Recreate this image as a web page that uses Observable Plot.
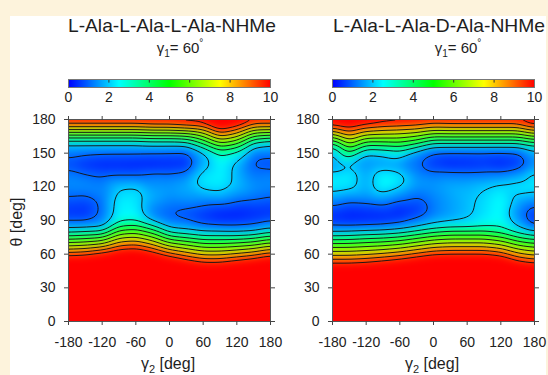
<!DOCTYPE html>
<html>
<head>
<meta charset="utf-8">
<script src="https://cdn.jsdelivr.net/npm/d3@7"></script>
<script src="https://cdn.jsdelivr.net/npm/@observablehq/plot@0.6"></script>
<style>
  html, body { margin: 0; padding: 0; }
  #root { position: relative; width: 548px; height: 375px; background: #fdf3dc; overflow: hidden; font-family: "Liberation Sans", Arial, sans-serif; }
  #paper { position: absolute; left: 10px; top: 16px; width: 536px; height: 359px; background: #fff; }
  .abs { position: absolute; }
  svg { overflow: visible; }
</style>
</head>
<body>
<div id="root"><div id="paper"></div></div>
<script>
// ---- data (energy, 0..10 colour range) ----
const gamma2 = [-180, -150, -120, -90, -60, -30, 0, 30, 60, 90, 120, 150, 180];
const theta = [0, 40, 50, 55, 60, 65, 70, 75, 80, 85, 90, 95, 100, 110, 120, 130, 140, 150, 155, 160, 165, 170, 175, 180];

// one inner array per gamma2 column, values along theta
const energyLLL = [
  [30, 16.3, 12.9, 11.2, 9.5, 7.8, 6.1, 4.4, 2.7, 1.55, 0.85, 0.6, 0.5, 0.95, 1.35, 1.3, 0.7, 1.2, 1.6, 2.3, 4.6, 6.6, 8.6, 10.6],
  [30, 16.5, 13.1, 11.4, 9.7, 8.0, 6.3, 4.6, 2.9, 1.6, 0.85, 0.55, 0.45, 0.85, 1.4, 1.1, 0.4, 1.1, 1.6, 2.3, 4.6, 6.6, 8.6, 10.6],
  [30, 17.6, 14.0, 12.2, 10.4, 8.5, 6.7, 4.9, 3.1, 1.6, 1.3, 1.15, 1.1, 1.2, 1.3, 0.95, 0.3, 1.02, 1.6, 2.3, 4.6, 6.6, 8.6, 10.6],
  [30, 18, 14.1, 12.6, 11.2, 9.7, 8.3, 6.8, 5.3, 3.9, 2.7, 2.45, 2.4, 2.3, 1.95, 1.0, 0.3, 1.0, 1.6, 2.3, 4.6, 6.6, 8.6, 10.6],
  [30, 17.3, 14.4, 12.9, 11.5, 10.0, 8.6, 7.1, 5.6, 4.2, 2.8, 2.5, 2.4, 2.3, 2.05, 1.0, 0.25, 1.0, 1.6, 2.3, 4.6, 6.6, 8.6, 10.6],
  [30, 16.6, 13.6, 12.1, 10.6, 9.1, 7.6, 6.1, 4.6, 3.05, 1.75, 1.3, 1.3, 1.7, 1.5, 1.2, 0.25, 0.95, 1.6, 2.6, 4.8, 6.8, 8.8, 10.8],
  [30, 16, 12.7, 11, 9.3, 7.7, 6.0, 4.3, 2.7, 1.6, 1.15, 0.98, 1.02, 1.4, 1.5, 1.15, 0.3, 0.9, 1.6, 2.6, 4.8, 6.8, 8.8, 10.8],
  [30, 15, 11.5, 10, 8.5, 7.0, 5.4, 3.9, 2.3, 1.5, 1.0, 0.75, 0.95, 1.5, 1.7, 1.3, 0.35, 0.85, 1.5, 2.9, 4.9, 7.0, 9.2, 11],
  [30, 14.4, 10.7, 9.3, 7.8, 6.3, 4.8, 3.4, 1.95, 1.1, 0.65, 0.5, 0.75, 1.5, 2.2, 2.3, 1.7, 1.7, 3.0, 4.4, 6.0, 7.5, 9.6, 11],
  [30, 14.4, 10.7, 9.3, 7.8, 6.3, 4.8, 3.4, 1.95, 0.95, 0.5, 0.3, 0.55, 1.6, 2.3, 2.45, 2.5, 3.1, 4.8, 6.4, 8.0, 9.8, 11.3, 12.8],
  [30, 14.6, 11.4, 9.8, 8.2, 6.6, 5.0, 3.4, 1.85, 0.95, 0.5, 0.3, 0.45, 1.25, 1.85, 1.8, 1.8, 2.6, 3.95, 5.6, 7.2, 8.7, 10.3, 12],
  [30, 15.3, 12, 10.3, 8.7, 7.0, 5.3, 3.7, 2.0, 1.1, 0.6, 0.45, 0.5, 1.1, 1.45, 1.2, 0.85, 1.2, 1.8, 3.0, 4.9, 6.7, 8.6, 10.6],
  [30, 16.3, 12.9, 11.2, 9.5, 7.8, 6.1, 4.4, 2.7, 1.55, 0.85, 0.6, 0.5, 0.95, 1.35, 1.3, 0.7, 1.2, 1.6, 2.3, 4.6, 6.6, 8.6, 10.6]
];

const energyLLD = [
  [28, 13.4, 10.6, 9.1, 7.7, 6.3, 4.85, 3.35, 1.9, 0.95, 0.5, 0.4, 0.75, 1.6, 2.35, 2.3, 1.4, 1.65, 2.5, 4.2, 6.1, 8.0, 9.9, 11.8],
  [28, 13.4, 10.6, 9.1, 7.7, 6.3, 4.9, 3.4, 2.0, 0.9, 0.4, 0.3, 0.5, 1.3, 2.25, 2.4, 1.8, 3.9, 5.3, 6.6, 8.0, 9.3, 10.7, 12],
  [28, 13.7, 10.8, 9.3, 7.9, 6.5, 5.1, 3.7, 2.15, 0.95, 0.45, 0.35, 0.55, 1.4, 1.7, 1.65, 1.4, 1.9, 3.3, 4.9, 6.5, 8.2, 9.8, 11.5],
  [28, 14.1, 11.2, 9.7, 8.2, 6.7, 5.3, 3.8, 2.3, 1.05, 0.5, 0.35, 0.7, 1.6, 2.5, 2.5, 1.5, 2.05, 3.5, 5.0, 6.4, 7.9, 9.4, 10.9],
  [28, 14.7, 11.7, 10.15, 8.6, 7.1, 5.6, 4.1, 2.6, 1.3, 0.7, 0.35, 0.35, 1.2, 2.1, 2.3, 1.4, 2.5, 3.8, 5.1, 6.4, 7.7, 9.35, 10.65],
  [28, 15.3, 12.3, 10.75, 9.25, 7.7, 6.2, 4.7, 3.2, 1.7, 1.2, 0.7, 0.5, 0.95, 1.5, 1.4, 1.1, 1.4, 2.9, 4.5, 6.0, 7.5, 9.1, 10.6],
  [28, 15.9, 12.9, 11.4, 9.85, 8.3, 6.8, 5.3, 3.8, 2.3, 1.6, 1.3, 1.2, 1.3, 1.5, 1.25, 0.5, 0.9, 1.65, 3.4, 5.1, 6.9, 8.6, 10.4],
  [28, 15.9, 13, 11.5, 10, 8.5, 7.0, 5.6, 4.1, 2.6, 1.8, 1.6, 1.55, 1.6, 1.7, 1.3, 0.3, 0.85, 1.6, 3.4, 5.2, 7.0, 8.7, 10.5],
  [28, 15.9, 13, 11.5, 10, 8.5, 7.0, 5.6, 4.1, 2.6, 2.0, 1.9, 1.85, 1.85, 1.75, 1.25, 0.35, 0.85, 1.6, 3.4, 5.2, 7.0, 8.7, 10.5],
  [28, 15.9, 13, 11.5, 10, 8.5, 7.0, 5.6, 4.1, 2.8, 2.35, 2.25, 2.2, 2.15, 1.95, 1.25, 0.45, 0.85, 1.6, 3.4, 5.2, 7.0, 8.7, 10.5],
  [28, 15.5, 12.6, 11, 9.55, 8.05, 6.55, 5.05, 3.6, 2.8, 2.6, 2.55, 2.55, 2.5, 2.2, 1.3, 0.3, 0.8, 1.6, 3.4, 5.2, 7.0, 8.7, 10.5],
  [28, 14, 11.1, 9.7, 8.3, 6.85, 5.4, 4.0, 2.6, 1.9, 1.6, 1.35, 1.4, 1.85, 2.3, 1.6, 0.5, 0.85, 1.6, 3.4, 5.2, 7.0, 8.7, 10.5],
  [28, 13.4, 10.6, 9.1, 7.7, 6.3, 4.85, 3.35, 1.9, 0.95, 0.5, 0.4, 0.75, 1.6, 2.35, 2.3, 1.4, 1.65, 2.5, 4.2, 6.1, 8.0, 9.9, 11.8]
];

const xTicks = [-180, -120, -60, 0, 60, 120, 180];
const yTicks = [0, 30, 60, 90, 120, 150, 180];
const barTicks = [0, 2, 4, 6, 8, 10];
const innerBarTicks = [2, 4, 6, 8];
const levels = [1, 2, 3, 4, 5, 6, 7, 8, 9, 10];
const titles = ["L-Ala-L-Ala-L-Ala-NHMe", "L-Ala-L-Ala-D-Ala-NHMe"];

// ---- helpers ----
const FONT = '"Liberation Sans", Arial, sans-serif';
const jet = t => d3.hsl(240 * (1 - t), 1, 0.5).formatRgb();
const colorScale = {type: "linear", domain: [0, 10], interpolate: jet, clamp: true};

function toPoints(E) {
  const pts = [];
  gamma2.forEach((g, i) => theta.forEach((t, j) => pts.push({g, t, v: E[i][j]})));
  return pts;
}

function panel(E) {
  const pts = toPoints(E);
  return Plot.plot({
    width: 274, height: 275,
    marginLeft: 68, marginRight: 4, marginTop: 19, marginBottom: 54,
    x: {domain: [-180, 180]},
    y: {domain: [0, 180]},
    color: colorScale,
    style: {background: "transparent", fontFamily: FONT, fontSize: "14px", color: "#222", overflow: "visible"},
    marks: [
      Plot.raster(pts, {x: "g", y: "t", fill: "v", interpolate: "barycentric", pixelSize: 1, blur: 4}),
      Plot.contour(pts, {x: "g", y: "t", value: "v", interpolate: "barycentric", pixelSize: 1, blur: 4,
        thresholds: levels, stroke: "#151515", strokeWidth: 0.95, fill: "none"}),
      Plot.frame({stroke: "#555"}),
      Plot.axisX({ticks: xTicks, tickSize: 4, tickPadding: 12, tickFormat: d => String(d), label: null, stroke: "#444"}),
      Plot.axisX({anchor: "top", ticks: xTicks, tickSize: 4, tickFormat: () => "", label: null, stroke: "#444"}),
      Plot.axisY({ticks: yTicks, tickSize: 4, tickPadding: 9, tickFormat: d => String(d), label: null, stroke: "#444"}),
      Plot.axisY({anchor: "right", ticks: yTicks, tickSize: 4, tickFormat: () => "", label: null, stroke: "#444"})
    ]
  });
}

function colorbar() {
  return Plot.plot({
    width: 274, height: 40,
    marginLeft: 68, marginRight: 4, marginTop: 9, marginBottom: 23,
    x: {domain: [0, 10]},
    y: {domain: [0, 1], axis: null},
    color: colorScale,
    style: {background: "transparent", fontFamily: FONT, fontSize: "14px", color: "#222", overflow: "visible"},
    marks: [
      Plot.raster({x1: 0, x2: 10, y1: 0, y2: 1, fill: (x, y) => x, pixelSize: 1}),
      Plot.ruleX(innerBarTicks, {y1: 1, y2: 0.55, stroke: "#333", strokeWidth: 1}),
      Plot.frame({stroke: "#777"}),
      Plot.axisX({ticks: barTicks, tickSize: 0, tickPadding: 5, tickFormat: d => String(d), label: null})
    ]
  });
}

const root = document.getElementById("root");
function place(node, left, top) {
  const d = document.createElement("div");
  d.className = "abs";
  d.style.left = left + "px";
  d.style.top = top + "px";
  d.appendChild(node);
  root.appendChild(d);
}

place(colorbar(), 0, 70);
place(colorbar(), 264, 70);
place(panel(energyLLL), 0, 100);
place(panel(energyLLD), 264, 100);

// ---- text overlay ----
const svg = d3.select(root).append("svg")
  .attr("class", "abs").attr("width", 548).attr("height", 375)
  .style("left", "0px").style("top", "0px").style("pointer-events", "none")
  .attr("font-family", FONT).attr("fill", "#1e1e1e");

const titleX = [172, 439];
const titleW = [208, 212];
titles.forEach((t, i) => {
  svg.append("text").attr("x", titleX[i]).attr("y", 32).attr("text-anchor", "middle")
    .attr("font-size", 18.5).attr("textLength", titleW[i]).attr("lengthAdjust", "spacingAndGlyphs").text(t);
});

const subX = [180, 458];
subX.forEach(x => {
  const tx = svg.append("text").attr("x", x).attr("y", 53).attr("text-anchor", "middle").attr("font-size", 15);
  tx.append("tspan").text("γ");
  tx.append("tspan").attr("dy", 4).attr("font-size", 10).text("1");
  tx.append("tspan").attr("dy", -4).text("= 60");
  tx.append("tspan").attr("dy", -7).attr("font-size", 10).text("°");
});

const xlabX = [168, 432];
xlabX.forEach(x => {
  const tx = svg.append("text").attr("x", x).attr("y", 369).attr("text-anchor", "middle").attr("font-size", 16);
  tx.append("tspan").text("γ");
  tx.append("tspan").attr("dy", 4).attr("font-size", 11).text("2");
  tx.append("tspan").attr("dy", -4).text(" [deg]");
});

svg.append("text").attr("transform", "translate(22,222) rotate(-90)").attr("text-anchor", "middle")
  .attr("font-size", 16).text("θ [deg]");
</script>
</body>
</html>
